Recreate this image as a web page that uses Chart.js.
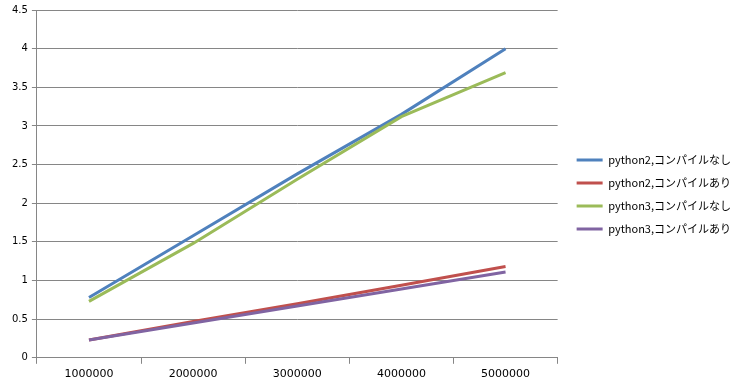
<!DOCTYPE html>
<html>
<head>
<meta charset="utf-8">
<script src="https://cdn.jsdelivr.net/npm/chart.js@4"></script>
<style>
  html, body { margin: 0; padding: 0; background: #fff; }
  #wrap { width: 748px; height: 389px; }
</style>
</head>
<body>
<div id="wrap"><canvas id="c" width="748" height="389"></canvas></div>
<script>
// data
const categories = ['1000000', '2000000', '3000000', '4000000', '5000000'];
const seriesNames = ['python2,コンパイルなし', 'python2,コンパイルあり', 'python3,コンパイルなし', 'python3,コンパイルあり'];
const py2NoCompile = [0.78, 1.58, 2.38, 3.15, 4.0];
const py2Compile = [0.23, 0.47, 0.70, 0.94, 1.18];
const py3NoCompile = [0.73, 1.48, 2.31, 3.12, 3.69];
const py3Compile = [0.23, 0.45, 0.67, 0.89, 1.11];
const yMin = 0, yMax = 4.5, yStep = 0.5;

const colors = ['#4F81BD', '#C0504D', '#9BBB59', '#8064A2'];
const values = [py2NoCompile, py2Compile, py3NoCompile, py3Compile];
const gridColor = '#868686';

const datasets = values.map((v, i) => ({
  label: seriesNames[i],
  data: v,
  borderColor: colors[i],
  backgroundColor: colors[i],
  borderWidth: 3,
  pointRadius: 0,
  tension: 0,
  order: 4 - i, // later series drawn on top, like Excel
}));

// nudge the legend a little from where Chart.js puts it
const legendShift = {
  id: 'legendShift',
  afterLayout(chart) {
    if (chart.legend) {
      chart.legend.left += 7;
      chart.legend.right += 7;
      chart.legend.top -= 3;
      chart.legend.bottom -= 3;
    }
  },
};

new Chart(document.getElementById('c'), {
  type: 'line',
  data: { labels: categories, datasets: datasets },
  plugins: [legendShift],
  options: {
    responsive: false,
    animation: false,
    layout: { padding: { top: 10, left: 8, right: 14, bottom: 4 } },
    plugins: {
      tooltip: { enabled: false },
      legend: {
        position: 'right',
        labels: {
          boxWidth: 26,
          boxHeight: 3,
          padding: 12,
          color: '#000',
          font: { family: '"Noto Sans CJK JP", sans-serif', size: 11 },
          sort: (a, b) => a.datasetIndex - b.datasetIndex,
          generateLabels: (chart) => chart.data.datasets.map((ds, i) => ({
            text: ds.label,
            fillStyle: ds.borderColor,
            strokeStyle: ds.borderColor,
            lineWidth: 0,
            datasetIndex: i,
            hidden: false,
          })),
        },
      },
    },
    scales: {
      x: {
        offset: true,
        grid: {
          offset: true,
          drawOnChartArea: false,
          drawTicks: true,
          tickLength: 6,
          color: gridColor,
        },
        border: { display: true, color: gridColor },
        ticks: {
          color: '#000',
          padding: 4,
          maxRotation: 0,
          font: { family: '"DejaVu Sans", sans-serif', size: 11 },
        },
      },
      y: {
        min: yMin,
        max: yMax,
        grid: { color: gridColor, tickLength: 5 },
        border: { display: true, color: gridColor },
        ticks: {
          stepSize: yStep,
          color: '#000',
          padding: 4,
          font: { family: '"DejaVu Sans", sans-serif', size: 10 },
          callback: (v) => String(v),
        },
      },
    },
  },
});
</script>
</body>
</html>
